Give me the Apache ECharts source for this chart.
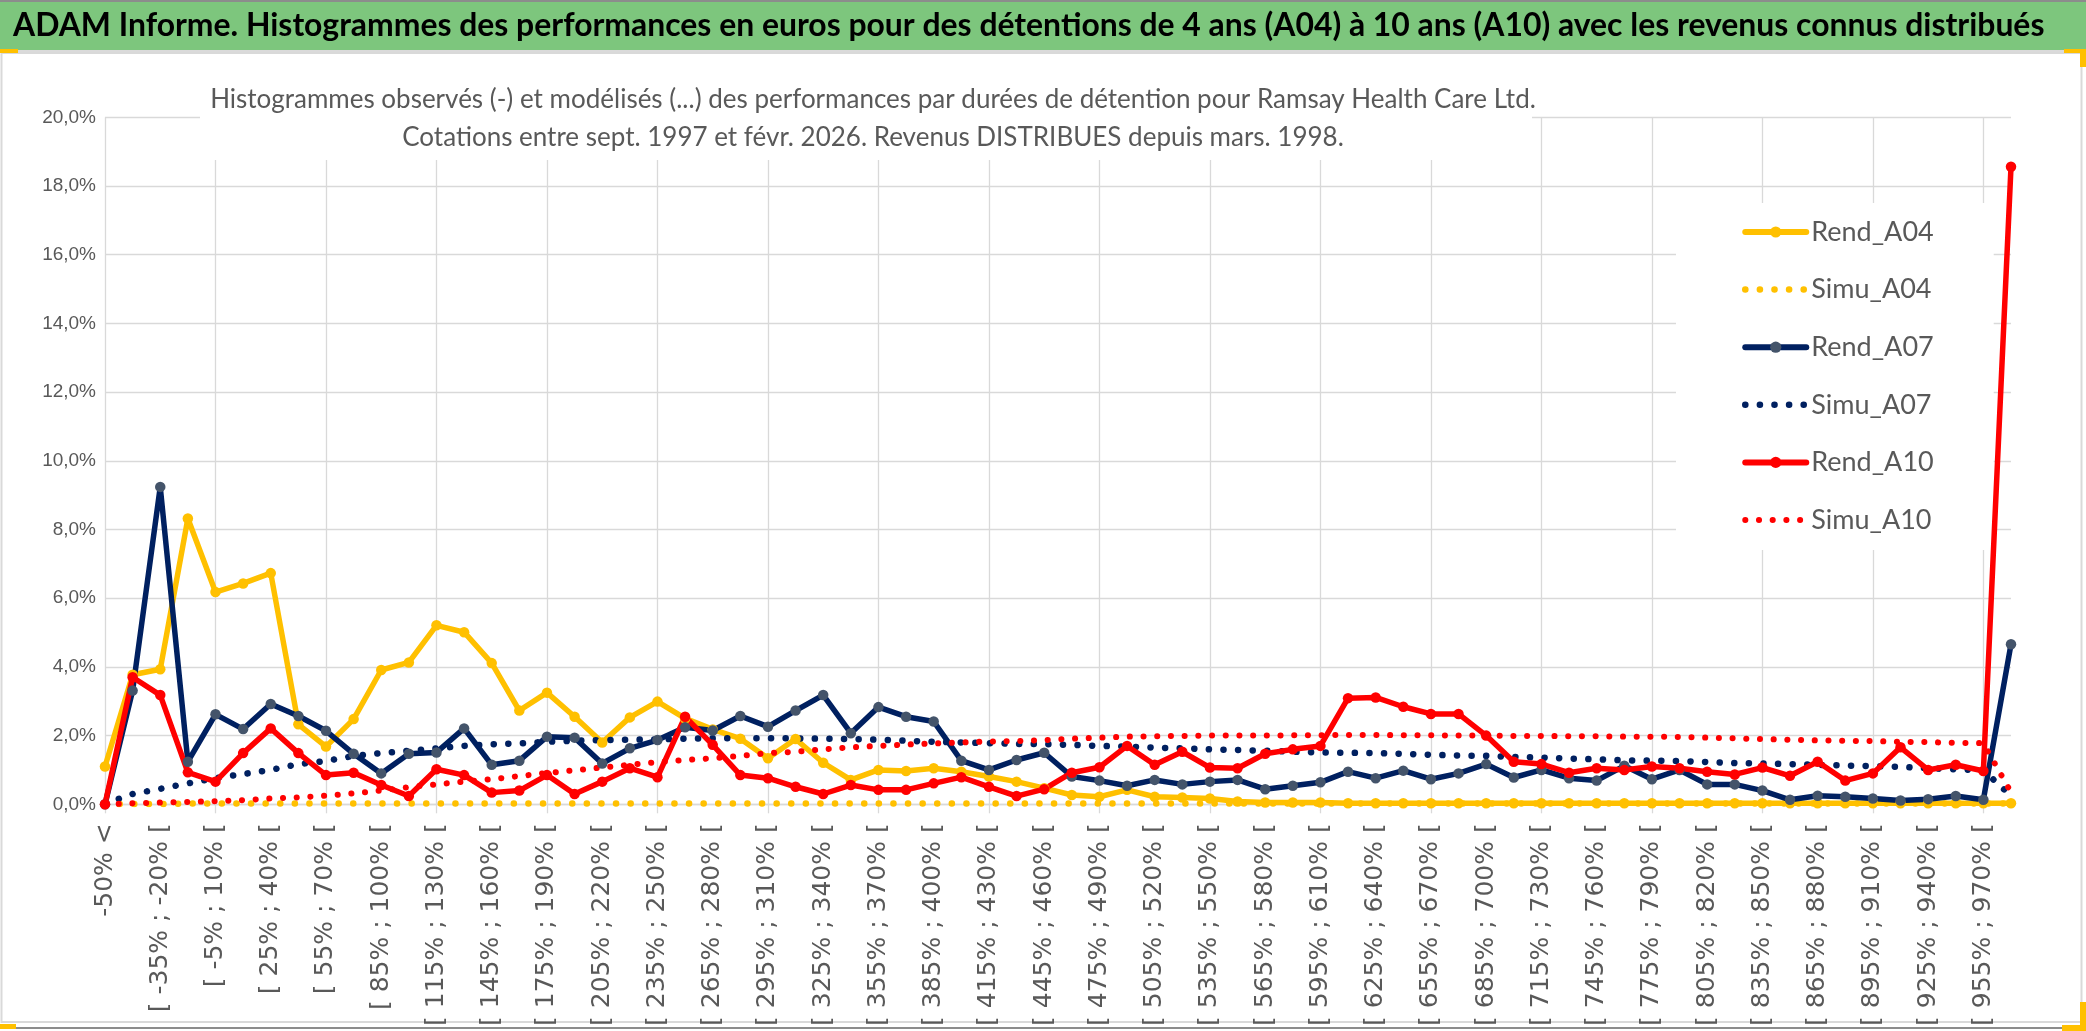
<!DOCTYPE html>
<html><head><meta charset="utf-8">
<script src="https://cdn.jsdelivr.net/npm/echarts@6/dist/echarts.min.js"></script>
<style>html,body{margin:0;padding:0;background:#fff}#c{width:2086px;height:1031px}</style>
</head><body><div id="c"></div>
<script>
const categories = ["-50% <","[ -50% ; -35% [","[ -35% ; -20% [","[ -20% ; -5% [","[ -5% ; 10% [","[ 10% ; 25% [","[ 25% ; 40% [","[ 40% ; 55% [","[ 55% ; 70% [","[ 70% ; 85% [",
"[ 85% ; 100% [","[ 100% ; 115% [","[ 115% ; 130% [","[ 130% ; 145% [","[ 145% ; 160% [","[ 160% ; 175% [","[ 175% ; 190% [","[ 190% ; 205% [","[ 205% ; 220% [","[ 220% ; 235% [",
"[ 235% ; 250% [","[ 250% ; 265% [","[ 265% ; 280% [","[ 280% ; 295% [","[ 295% ; 310% [","[ 310% ; 325% [","[ 325% ; 340% [","[ 340% ; 355% [","[ 355% ; 370% [","[ 370% ; 385% [",
"[ 385% ; 400% [","[ 400% ; 415% [","[ 415% ; 430% [","[ 430% ; 445% [","[ 445% ; 460% [","[ 460% ; 475% [","[ 475% ; 490% [","[ 490% ; 505% [","[ 505% ; 520% [","[ 520% ; 535% [",
"[ 535% ; 550% [","[ 550% ; 565% [","[ 565% ; 580% [","[ 580% ; 595% [","[ 595% ; 610% [","[ 610% ; 625% [","[ 625% ; 640% [","[ 640% ; 655% [","[ 655% ; 670% [","[ 670% ; 685% [",
"[ 685% ; 700% [","[ 700% ; 715% [","[ 715% ; 730% [","[ 730% ; 745% [","[ 745% ; 760% [","[ 760% ; 775% [","[ 775% ; 790% [","[ 790% ; 805% [","[ 805% ; 820% [","[ 820% ; 835% [",
"[ 835% ; 850% [","[ 850% ; 865% [","[ 865% ; 880% [","[ 880% ; 895% [","[ 895% ; 910% [","[ 910% ; 925% [","[ 925% ; 940% [","[ 940% ; 955% [","[ 955% ; 970% [","> 970%"];

const rendA04 = [1.10,3.77,3.93,8.32,6.18,6.43,6.73,2.33,1.68,2.48,
3.91,4.13,5.21,5.01,4.11,2.73,3.25,2.55,1.80,2.53,
2.99,2.50,2.18,1.91,1.34,1.90,1.21,0.71,1.00,0.97,
1.05,0.95,0.81,0.66,0.47,0.27,0.22,0.42,0.22,0.20,
0.17,0.08,0.05,0.05,0.05,0.03,0.03,0.03,0.03,0.03,
0.03,0.03,0.03,0.03,0.03,0.03,0.03,0.03,0.03,0.03,
0.03,0.03,0.03,0.03,0.03,0.03,0.03,0.03,0.03,0.03];

const simuA04 = [0.00,0.01,0.01,0.02,0.02,0.02,0.02,0.02,0.02,0.02,
0.02,0.02,0.02,0.02,0.02,0.02,0.02,0.02,0.02,0.02,
0.02,0.02,0.02,0.02,0.02,0.02,0.02,0.02,0.02,0.02,
0.02,0.02,0.02,0.02,0.02,0.02,0.02,0.02,0.02,0.02,
0.02,0.02,0.02,0.02,0.02,0.02,0.02,0.02,0.02,0.02,
0.02,0.02,0.02,0.02,0.02,0.02,0.02,0.02,0.02,0.02,
0.02,0.02,0.02,0.02,0.02,0.02,0.02,0.02,0.02,0.02];

const rendA07 = [0.00,3.31,9.24,1.24,2.62,2.19,2.92,2.57,2.14,1.47,
0.90,1.47,1.51,2.21,1.15,1.27,1.97,1.94,1.19,1.63,
1.87,2.24,2.15,2.57,2.26,2.73,3.18,2.07,2.83,2.55,
2.41,1.27,1.00,1.29,1.50,0.81,0.69,0.54,0.71,0.58,
0.66,0.71,0.44,0.54,0.64,0.95,0.76,0.98,0.73,0.90,
1.17,0.78,1.00,0.76,0.69,1.12,0.73,1.00,0.58,0.58,
0.40,0.13,0.25,0.22,0.17,0.11,0.15,0.24,0.13,4.66];

const simuA07 = [0.02,0.30,0.45,0.61,0.76,0.88,1.00,1.17,1.26,1.41,
1.49,1.56,1.63,1.70,1.75,1.77,1.82,1.85,1.87,1.88,
1.89,1.91,1.92,1.92,1.92,1.92,1.91,1.90,1.88,1.85,
1.82,1.80,1.78,1.76,1.75,1.73,1.70,1.68,1.65,1.63,
1.60,1.58,1.56,1.53,1.51,1.50,1.49,1.47,1.44,1.42,
1.41,1.38,1.36,1.33,1.31,1.28,1.27,1.26,1.23,1.20,
1.19,1.17,1.15,1.13,1.11,1.09,1.05,1.02,0.99,0.25];

const rendA10 = [0.00,3.70,3.18,0.93,0.66,1.49,2.21,1.49,0.85,0.92,
0.56,0.24,1.02,0.85,0.34,0.40,0.85,0.30,0.66,1.05,
0.79,2.55,1.73,0.85,0.76,0.51,0.30,0.56,0.42,0.42,
0.61,0.79,0.51,0.24,0.44,0.92,1.08,1.70,1.15,1.53,
1.07,1.05,1.47,1.60,1.70,3.09,3.11,2.84,2.63,2.63,
2.00,1.24,1.17,0.92,1.05,1.00,1.10,1.05,0.95,0.87,
1.07,0.83,1.24,0.69,0.90,1.66,1.00,1.15,0.97,18.56];

const simuA10 = [0.00,0.03,0.05,0.07,0.09,0.12,0.17,0.20,0.25,0.32,
0.40,0.50,0.58,0.66,0.73,0.82,0.91,0.99,1.07,1.15,
1.23,1.29,1.34,1.41,1.49,1.53,1.60,1.66,1.70,1.74,
1.77,1.80,1.83,1.84,1.87,1.91,1.94,1.97,1.98,1.99,
2.00,2.00,2.00,2.01,2.01,2.02,2.02,2.01,2.01,2.00,
2.00,1.99,1.99,1.98,1.98,1.97,1.97,1.96,1.94,1.92,
1.90,1.88,1.86,1.85,1.84,1.82,1.81,1.79,1.78,0.35];

const seriesNames = ["Rend_A04","Simu_A04","Rend_A07","Simu_A07","Rend_A10","Simu_A10"];
const mainTitle = "ADAM Informe. Histogrammes des performances en euros pour des détentions de 4 ans (A04) à 10 ans (A10) avec les revenus connus distribués";
const subTitle = "Histogrammes observés (-) et modélisés (...) des performances par durées de détention pour Ramsay Health Care Ltd.\nCotations entre sept. 1997 et févr. 2026. Revenus DISTRIBUES depuis mars. 1998.";

const YELLOW = '#FFC000', NAVY = '#002060', RED = '#FF0000', NAVY_MARK = '#44546A';
const HUM = "Lato,'Liberation Sans',sans-serif";

function rend(name, data, color, mark) {
  return {
    name, type: 'line', data, symbol: 'circle', symbolSize: 10.5, showAllSymbol: true,
    lineStyle: { color, width: 5.5, cap: 'round', join: 'round' },
    itemStyle: { color: mark, borderWidth: 0 },
    emphasis: { disabled: true }, z: 5
  };
}
function simu(name, data, color, w, gap) {
  return {
    name, type: 'line', data, symbol: 'none',
    lineStyle: { color, width: w, type: [0.1, gap], cap: 'round' },
    itemStyle: { color },
    emphasis: { disabled: true }, z: 5
  };
}

const legendData = [
  { name: 'Rend_A04', lineStyle: { width: 6 } },
  { name: 'Simu_A04', lineStyle: { width: 6.5 }, itemStyle: { opacity: 0 } },
  { name: 'Rend_A07', lineStyle: { width: 6 } },
  { name: 'Simu_A07', lineStyle: { width: 6.5 }, itemStyle: { opacity: 0 } },
  { name: 'Rend_A10', lineStyle: { width: 6 } },
  { name: 'Simu_A10', lineStyle: { width: 6 }, itemStyle: { opacity: 0 } }
];

const chart = echarts.init(document.getElementById('c'), null, { renderer: 'canvas' });
chart.setOption({
  animation: false,
  backgroundColor: '#ffffff',
  title: [
    { text: mainTitle, left: 13, top: 7, padding: 0,
      textStyle: { fontSize: 31.9, fontWeight: 'bold', color: '#000', fontFamily: HUM, lineHeight: 37 } },
    { text: subTitle, left: 873, top: 81, padding: 0, textAlign: 'center',
      textStyle: { fontSize: 26, fontWeight: 'normal', color: '#595959', fontFamily: HUM, lineHeight: 38 } }
  ],
  graphic: [
    { type: 'rect', shape: { x: 0, y: 0, width: 2086, height: 50 }, style: { fill: '#7DC67D' }, z: 0 },
    { type: 'rect', shape: { x: 0, y: 0, width: 2086, height: 2 }, style: { fill: '#8C8C8C' }, z: 0 },
    { type: 'rect', shape: { x: 0, y: 50, width: 2086, height: 3 }, style: { fill: '#DADADA' }, z: 0 },
    { type: 'rect', shape: { x: 1.5, y: 53, width: 2080, height: 969 }, style: { fill: null, stroke: '#D9D9D9', lineWidth: 2 }, z: 0 },
    { type: 'rect', shape: { x: 0, y: 1027, width: 2086, height: 2 }, style: { fill: '#8C8C8C' }, z: 0 },
    { type: 'rect', shape: { x: 200, y: 110, width: 1332, height: 50 }, style: { fill: '#FFFFFF' }, z: 1 },
    { type: 'rect', shape: { x: 0, y: 49, width: 18, height: 4 }, style: { fill: YELLOW }, z: 3 },
    { type: 'rect', shape: { x: 2064, y: 49, width: 22, height: 4 }, style: { fill: YELLOW }, z: 3 },
    { type: 'rect', shape: { x: 2080, y: 49, width: 6, height: 18 }, style: { fill: YELLOW }, z: 3 },
    { type: 'rect', shape: { x: 2080, y: 1002, width: 6, height: 29 }, style: { fill: YELLOW }, z: 3 },
    { type: 'rect', shape: { x: 2062, y: 1025, width: 24, height: 6 }, style: { fill: YELLOW }, z: 3 },
    { type: 'rect', shape: { x: 0, y: 1024, width: 16, height: 5 }, style: { fill: YELLOW }, z: 3 }
  ],
  legend: {
    orient: 'vertical', left: 1676, top: 203,
    itemWidth: 61, itemHeight: 14, itemGap: 27.6,
    padding: [14, 60, 15, 66], backgroundColor: '#FFFFFF',
    textStyle: { fontSize: 27, lineHeight: 30, color: '#595959', fontFamily: HUM },
    data: legendData
  },
  grid: { left: 105, right: 75, top: 117.3, bottom: 226.7, containLabel: false, outerBoundsMode: 'none' },
  xAxis: {
    type: 'category', data: categories, boundaryGap: false,
    axisLine: { lineStyle: { color: '#D9D9D9', width: 1.3 } },
    axisTick: { show: true, interval: 3, length: 9, lineStyle: { color: '#D9D9D9', width: 1.3 } },
    axisLabel: { interval: 1, rotate: 90, margin: 19, fontSize: 25, fontFamily: 'DejaVu Sans', color: '#595959' },
    splitLine: { show: true, interval: 3, lineStyle: { color: '#D9D9D9', width: 1.3 } }
  },
  yAxis: {
    type: 'value', min: 0, max: 20, interval: 2,
    axisLine: { show: false }, axisTick: { show: false },
    axisLabel: { formatter: v => v.toFixed(1).replace('.', ',') + '%', fontSize: 19, color: '#595959', margin: 9, fontFamily: 'Liberation Sans' },
    splitLine: { lineStyle: { color: '#D9D9D9', width: 1.3 } }
  },
  series: [
    rend('Rend_A04', rendA04, YELLOW, YELLOW),
    simu('Simu_A04', simuA04, YELLOW, 6.5, 14.5),
    rend('Rend_A07', rendA07, NAVY, NAVY_MARK),
    simu('Simu_A07', simuA07, NAVY, 6.5, 14.5),
    rend('Rend_A10', rendA10, RED, RED),
    simu('Simu_A10', simuA10, RED, 6, 13.6)
  ]
});
</script></body></html>
